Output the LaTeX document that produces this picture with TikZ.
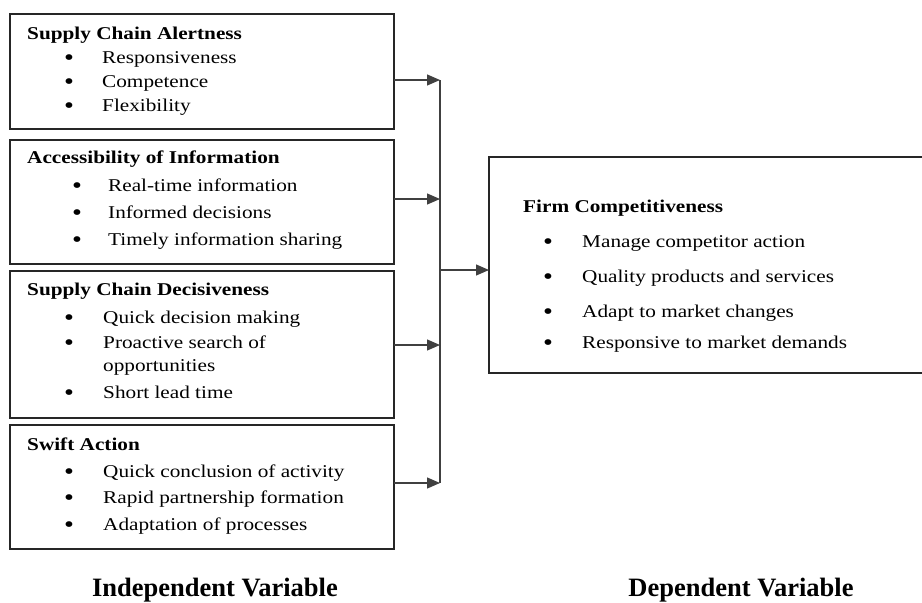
\documentclass[tikz,border=0pt]{standalone}
\usepackage{fontspec}
\setmainfont{Liberation Serif}[FakeStretch=1.18]
\newfontfamily\labfont{Liberation Serif}
\usetikzlibrary{arrows.meta}
\newcommand\bitem[5]{\node[txt] (#1b) at (#2,#4) {\raisebox{-2.2pt}{\fontsize{24}{24}\selectfont\textbullet}}; \node[txt] (#1) at (#3,#4) {#5};}
\tikzset{
 panel/.style={draw=black!85, line width=1.3pt, anchor=north west, inner sep=0pt, outer sep=0pt},
 txt/.style={anchor=base west, inner sep=0pt, font=\fontsize{18}{20}\selectfont},
 ttl/.style={anchor=base west, inner sep=0pt, font=\fontsize{18}{20}\selectfont\bfseries},
 conn/.style={draw=black!75, line width=1.2pt},
 arr/.style={conn, -{Triangle[length=13pt,width=11pt]}},
 varlab/.style={anchor=base, inner sep=0pt, font=\labfont\fontsize{26.5}{28}\selectfont\bfseries}
}
\begin{document}
\begin{tikzpicture}[x=1pt,y=-1pt]
\useasboundingbox[fill=white] (0,0) rectangle (922,603);
% boxes
\node[panel, minimum width=384pt, minimum height=115pt] (b1) at (10,14) {};
\node[panel, minimum width=384pt, minimum height=124pt] (b2) at (10,140) {};
\node[panel, minimum width=384pt, minimum height=147pt] (b3) at (10,271) {};
\node[panel, minimum width=384pt, minimum height=124pt] (b4) at (10,425) {};
\node[panel, minimum width=445pt, minimum height=216pt] (fc) at (489,157) {};
% box 1
\node[ttl] (t1) at (27,39) {Supply Chain Alertness};
\bitem{a1}{64}{102}{63}{Responsiveness}
\bitem{a2}{64}{102}{87}{Competence}
\bitem{a3}{64}{102}{111}{Flexibility}
% box 2
\node[ttl] (t2) at (27,163) {Accessibility of Information};
\bitem{c1}{72}{108}{191}{Real-time information}
\bitem{c2}{72}{108}{218}{Informed decisions}
\bitem{c3}{72}{108}{245}{Timely information sharing}
% box 3
\node[ttl] (t3) at (27,295) {Supply Chain Decisiveness};
\bitem{d1}{64}{103}{323}{Quick decision making}
\bitem{d2}{64}{103}{348}{Proactive search of}
\node[txt] (d2b2) at (103,371) {opportunities};
\bitem{d3}{64}{103}{398}{Short lead time}
% box 4
\node[ttl] (t4) at (27,450) {Swift Action};
\bitem{s1}{64}{103}{477}{Quick conclusion of activity}
\bitem{s2}{64}{103}{503}{Rapid partnership formation}
\bitem{s3}{64}{103}{530}{Adaptation of processes}
% right box
\node[ttl] (t5) at (523,212) {Firm Competitiveness};
\bitem{f1}{543}{582}{247}{Manage competitor action}
\bitem{f2}{543}{582}{282}{Quality products and services}
\bitem{f3}{543}{582}{317}{Adapt to market changes}
\bitem{f4}{543}{582}{348}{Responsive to market demands}
% connectors
\coordinate (j1) at (440,80);
\coordinate (j2) at (440,199);
\coordinate (j3) at (440,345);
\coordinate (j4) at (440,483);
\coordinate (jm) at (440,270);
\draw[conn] (j1) -- (j4);
\draw[arr] (j1 -| b1.east) -- (j1);
\draw[arr] (j2 -| b2.east) -- (j2);
\draw[arr] (j3 -| b3.east) -- (j3);
\draw[arr] (j4 -| b4.east) -- (j4);
\draw[arr] (jm) -- (jm -| fc.west);
% labels
\node[varlab] (iv) at (215,596) {Independent Variable};
\node[varlab] (dv) at (741,596) {Dependent Variable};
\end{tikzpicture}
\end{document}
